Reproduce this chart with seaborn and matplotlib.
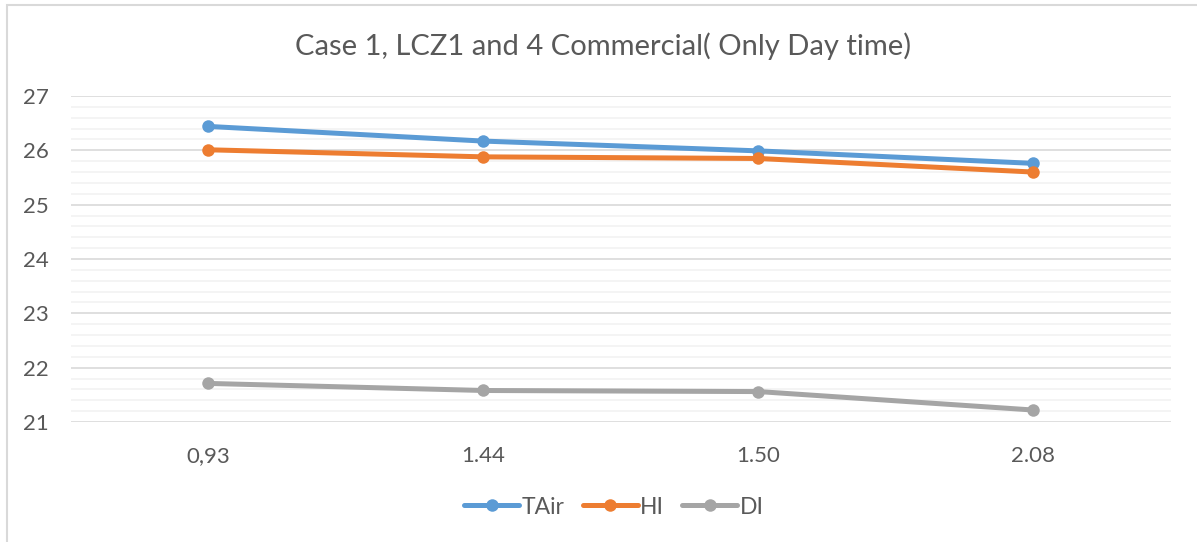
import matplotlib
matplotlib.use("Agg")
import matplotlib.pyplot as plt
from matplotlib.patches import Rectangle
from matplotlib.ticker import MultipleLocator
import numpy as np
import pandas as pd
import seaborn as sns

# Data
ratios = ["0,93", "1.44", "1.50", "2.08"]
tair = [26.44, 26.17, 25.99, 25.76]
hi = [26.01, 25.88, 25.85, 25.60]
di = [21.71, 21.58, 21.56, 21.22]
series_names = ["TAir", "HI", "DI"]
colors = ["#5b9bd5", "#ed7d31", "#a5a5a5"]

df = pd.DataFrame({
    "ratio": ratios * 3,
    "value": tair + hi + di,
    "series": np.repeat(series_names, len(ratios)),
})

sns.set_theme(style="white")
plt.rcParams["font.family"] = ["Lato", "DejaVu Sans"]

fig = plt.figure(figsize=(11.97, 5.42), dpi=100)
ax = fig.add_axes([71 / 1197, 1 - 422 / 542, 1100 / 1197, 326 / 542])

sns.lineplot(
    data=df, x="ratio", y="value", hue="series", hue_order=series_names,
    palette=colors, marker="o", markersize=9, markeredgewidth=0,
    linewidth=3.6, sort=False, ax=ax, legend=False, zorder=3,
)

ax.set_xlim(-0.5, len(ratios) - 0.5)
ax.set_ylim(21, 27)
ax.yaxis.set_major_locator(MultipleLocator(1))
ax.yaxis.set_minor_locator(MultipleLocator(0.2))
ax.grid(which="major", axis="y", color="#d9d9d9", linewidth=1.2, zorder=0)
ax.grid(which="minor", axis="y", color="#f2f2f2", linewidth=1.2, zorder=0)
ax.set_axisbelow(True)
for s in ax.spines.values():
    s.set_visible(False)

ax.set_xlabel("")
ax.set_ylabel("")
ax.tick_params(axis="both", which="both", length=0, labelsize=16, labelcolor="#595959")
ax.tick_params(axis="y", pad=16)
ax.tick_params(axis="x", pad=17)

fig.text(0.504, 1 - 46 / 542, "Case 1, LCZ1 and 4 Commercial( Only Day time)",
         ha="center", va="center", fontsize=21, color="#595959")

handles = [
    plt.Line2D([], [], color=c, linewidth=3.6, marker="o", markersize=9, markeredgewidth=0)
    for c in colors
]
leg = fig.legend(handles, series_names, loc="center", bbox_to_anchor=(0.513, 1 - 507 / 542),
                 ncol=3, frameon=False, fontsize=16.5, handlelength=2.4,
                 handletextpad=0.1, columnspacing=0.8)
for t in leg.get_texts():
    t.set_color("#595959")

# Chart frame (left and top edges visible)
fig.patches.append(Rectangle((7 / 1197, -0.05), 1.2, 1 - 5 / 542 + 0.05,
                             transform=fig.transFigure, fill=False,
                             edgecolor="#d9d9d9", linewidth=1.5))

fig.savefig("out.png", dpi=100)
